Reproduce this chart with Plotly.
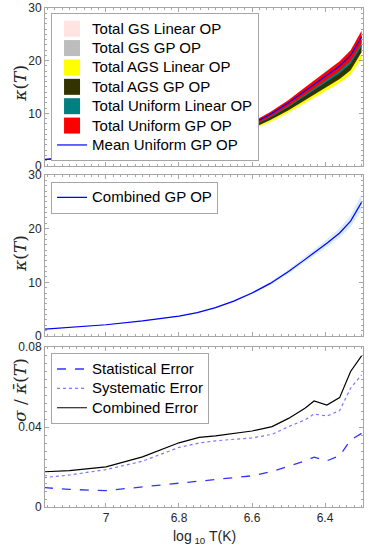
import plotly.graph_objects as go
from plotly.subplots import make_subplots

# log10 T grid (x axis runs from hot to cool)
logT = [7.17, 7.1, 7.0, 6.9, 6.8, 6.75, 6.7, 6.65, 6.6, 6.55, 6.5, 6.46, 6.43, 6.395, 6.36, 6.33, 6.3]

# panel 1: opacity bands from the different mixtures
pink_lo = [1.19, 1.51, 1.98, 2.63, 3.47, 4.06, 4.92, 6.02, 7.38, 9.05, 11.0, 12.8, 14.15, 15.7, 17.3, 19.0, 22.3]
pink_hi = [1.27, 1.62, 2.12, 2.83, 3.74, 4.39, 5.33, 6.54, 8.04, 9.84, 12.0, 14.0, 15.45, 17.15, 18.95, 20.95, 24.0]
gray_lo = [1.19, 1.5, 1.97, 2.62, 3.45, 4.04, 4.9, 6.0, 7.35, 9.0, 10.95, 12.75, 14.1, 15.6, 17.2, 18.9, 22.2]
gray_hi = [1.27, 1.62, 2.12, 2.83, 3.74, 4.39, 5.33, 6.54, 8.04, 9.84, 12.0, 14.0, 15.45, 17.15, 18.95, 20.95, 24.0]
yel_lo = [1.13, 1.43, 1.87, 2.48, 3.26, 3.8, 4.6, 5.6, 6.85, 8.35, 10.15, 11.8, 13.0, 14.35, 15.8, 17.35, 20.4]
yel_hi = [1.18, 1.5, 1.96, 2.6, 3.42, 4.0, 4.84, 5.9, 7.22, 8.8, 10.7, 12.45, 13.7, 15.15, 16.7, 18.35, 21.4]
dark_lo = [1.17, 1.48, 1.94, 2.57, 3.38, 3.95, 4.78, 5.84, 7.15, 8.74, 10.6, 12.3, 13.6, 15.0, 16.5, 18.2, 21.6]
dark_hi = [1.24, 1.58, 2.07, 2.76, 3.64, 4.27, 5.18, 6.34, 7.78, 9.52, 11.6, 13.5, 14.9, 16.55, 18.25, 20.2, 23.2]
teal_lo = [1.2, 1.52, 2.0, 2.66, 3.5, 4.1, 4.98, 6.1, 7.5, 9.2, 11.2, 13.05, 14.45, 16.0, 17.6, 19.4, 22.8]
teal_hi = [1.28, 1.64, 2.15, 2.87, 3.8, 4.46, 5.42, 6.65, 8.2, 10.0, 12.25, 14.3, 15.8, 17.55, 19.4, 21.4, 24.9]
red_lo = [1.2, 1.53, 2.01, 2.68, 3.54, 4.16, 5.06, 6.2, 7.64, 9.36, 11.45, 13.35, 14.8, 16.4, 18.1, 20.0, 23.3]
red_hi = [1.3, 1.67, 2.19, 2.92, 3.86, 4.54, 5.54, 6.8, 8.36, 10.24, 12.55, 14.65, 16.2, 18.0, 19.9, 22.0, 25.7]
mean_unif = [1.25, 1.6, 2.1, 2.8, 3.7, 4.35, 5.3, 6.5, 8.0, 9.8, 12.0, 14.0, 15.5, 17.2, 19.0, 21.0, 24.5]

# panel 2: combined GP opacity with its band
comb = [1.25, 1.6, 2.1, 2.8, 3.7, 4.35, 5.3, 6.5, 8.0, 9.8, 12.0, 14.0, 15.5, 17.3, 19.2, 21.4, 24.9]
comb_lo = [1.22, 1.57, 2.06, 2.75, 3.63, 4.26, 5.18, 6.35, 7.8, 9.5, 11.6, 13.5, 14.9, 16.6, 18.35, 20.3, 23.4]
comb_hi = [1.28, 1.63, 2.14, 2.85, 3.77, 4.44, 5.42, 6.65, 8.2, 10.1, 12.4, 14.5, 16.1, 18.0, 20.05, 22.5, 26.4]

# panel 3: relative errors
err_x = [7.17, 7.1, 7.0, 6.9, 6.8, 6.745, 6.7, 6.6, 6.545, 6.5, 6.455, 6.43, 6.395, 6.36, 6.33, 6.3]
stat_err = [0.0097, 0.0088, 0.0082, 0.0100, 0.0120, 0.0129, 0.0137, 0.0156, 0.0178, 0.0204, 0.0230, 0.0249, 0.0231, 0.0256, 0.0335, 0.0368]
syst_err = [0.0147, 0.0160, 0.0187, 0.0229, 0.0298, 0.0320, 0.0331, 0.0346, 0.0363, 0.0402, 0.0435, 0.0465, 0.0455, 0.0482, 0.0594, 0.0661]
comb_err = [0.0176, 0.0182, 0.0201, 0.0251, 0.0321, 0.0348, 0.0356, 0.0380, 0.0402, 0.0443, 0.0494, 0.0530, 0.0510, 0.0547, 0.0678, 0.0756]

fnt = "Liberation Sans, Arial, Helvetica, sans-serif"
axcol = "#a6a6a6"
txtcol = "#262626"

fig = make_subplots(rows=3, cols=1, shared_xaxes=True)

def lab(s):
    # bigger legend text without growing the row height
    return "<span style='font-size:15px'>" + s + "</span>"

def band(lo, hi, color, row, name, leg):
    fig.add_trace(go.Scatter(x=logT + logT[::-1], y=hi + lo[::-1], fill="toself",
                             fillcolor=color, line=dict(width=0), mode="lines",
                             hoverinfo="skip", showlegend=False), row=row, col=1)
    if name:
        fig.add_trace(go.Scatter(x=[None], y=[None], mode="markers", name=lab(name),
                                 marker=dict(symbol="square", size=16, color=color),
                                 legend=leg), row=row, col=1)

band(pink_lo, pink_hi, "#ffe4e1", 1, "Total GS Linear OP", "legend")
band(gray_lo, gray_hi, "#bdbdbd", 1, "Total GS GP OP", "legend")
band(yel_lo, yel_hi, "#ffff00", 1, "Total AGS Linear OP", "legend")
band(dark_lo, dark_hi, "#333300", 1, "Total AGS GP OP", "legend")
band(teal_lo, teal_hi, "#008080", 1, "Total Uniform Linear OP", "legend")
band(red_lo, red_hi, "#ff0000", 1, "Total Uniform GP OP", "legend")
fig.add_trace(go.Scatter(x=logT, y=mean_unif, mode="lines", name=lab("Mean Uniform GP OP"),
                         line=dict(color="#0000ff", width=1.2), legend="legend"), row=1, col=1)

band(comb_lo, comb_hi, "#d8ecf5", 2, None, None)
fig.add_trace(go.Scatter(x=logT, y=comb, mode="lines", name=lab("Combined GP OP"),
                         line=dict(color="#0000ff", width=1.2), legend="legend2"), row=2, col=1)

fig.add_trace(go.Scatter(x=err_x, y=stat_err, mode="lines", name=lab("Statistical Error"),
                         line=dict(color="#3333ff", width=1.3, dash="dash"), legend="legend3"), row=3, col=1)
fig.add_trace(go.Scatter(x=err_x, y=syst_err, mode="lines", name=lab("Systematic Error"),
                         line=dict(color="#7777ff", width=1.2, dash="dot"), legend="legend3"), row=3, col=1)
fig.add_trace(go.Scatter(x=err_x, y=comb_err, mode="lines", name=lab("Combined Error"),
                         line=dict(color="#000000", width=1.2), legend="legend3"), row=3, col=1)

tickfont = dict(family=fnt, size=12, color=txtcol)
for i in range(1, 4):
    fig.update_xaxes(range=[7.167, 6.296], dtick=0.2, tick0=0, ticks="inside", ticklen=4,
                     tickcolor=axcol, showline=True, linecolor=axcol, mirror="allticks",
                     showgrid=False, zeroline=False, tickfont=tickfont, automargin=False,
                     ticklabeloverflow="allow",
                     minor=dict(dtick=0.02, ticks="inside", ticklen=2, tickcolor=axcol),
                     row=i, col=1)
    fig.update_yaxes(ticks="inside", ticklen=4, tickcolor=axcol, showline=True, linecolor=axcol,
                     mirror="allticks", showgrid=False, zeroline=False, tickfont=tickfont,
                     automargin=False, ticklabeloverflow="allow", row=i, col=1)

fig.update_yaxes(range=[0, 30], dtick=10, minor=dict(dtick=1, ticks="inside", ticklen=2, tickcolor=axcol),
                 domain=[0.6834, 1.0], row=1, col=1)
fig.update_yaxes(range=[0, 30], dtick=10, minor=dict(dtick=1, ticks="inside", ticklen=2, tickcolor=axcol),
                 domain=[0.3427, 0.6653], row=2, col=1)
fig.update_yaxes(range=[0, 0.08], tickvals=[0, 0.04, 0.08], ticktext=["0", "0.04", "0.08"],
                 minor=dict(dtick=0.004, ticks="inside", ticklen=2, tickcolor=axcol),
                 domain=[0.0, 0.3206], row=3, col=1)

# axis titles as annotations so the margins stay fixed
ytitle = dict(family="DejaVu Serif, serif", size=17, color=txtcol)
for yc, txt in [(0.85, "<i>κ</i>(<i>T</i>)"), (0.509, "<i>κ</i>(<i>T</i>)"),
                (0.234, "<i>σ</i> / <i>κ\u0304</i>(<i>T</i>)")]:
    fig.add_annotation(x=-0.079, y=yc, xref="paper", yref="paper", text=txt, textangle=-90,
                       showarrow=False, font=ytitle, xanchor="center", yanchor="middle")
fig.add_annotation(x=0.5, y=-0.06, xref="paper", yref="paper", showarrow=False,
                   text="log<sub> 10</sub> T(K)", font=dict(family=fnt, size=14, color=txtcol),
                   xanchor="center", yanchor="middle")

legstyle = dict(bgcolor="white", bordercolor="#a6a6a6", borderwidth=1, xanchor="left", yanchor="top",
                font=dict(family=fnt, size=12.6, color="#000000"), tracegroupgap=0, itemwidth=30)
fig.update_layout(
    width=374, height=548, margin=dict(l=45, r=11, t=8, b=41),
    plot_bgcolor="white", paper_bgcolor="white",
    legend=dict(x=0.019, y=0.99, **legstyle),
    legend2=dict(x=0.019, y=0.652, **legstyle),
    legend3=dict(x=0.019, y=0.308, **legstyle),
)

# drop the default page margin so the figure sits at the window corner
fig.write_html("out.html", config={"displayModeBar": False},
               post_script="document.body.style.margin='0';document.body.style.overflow='hidden';")
